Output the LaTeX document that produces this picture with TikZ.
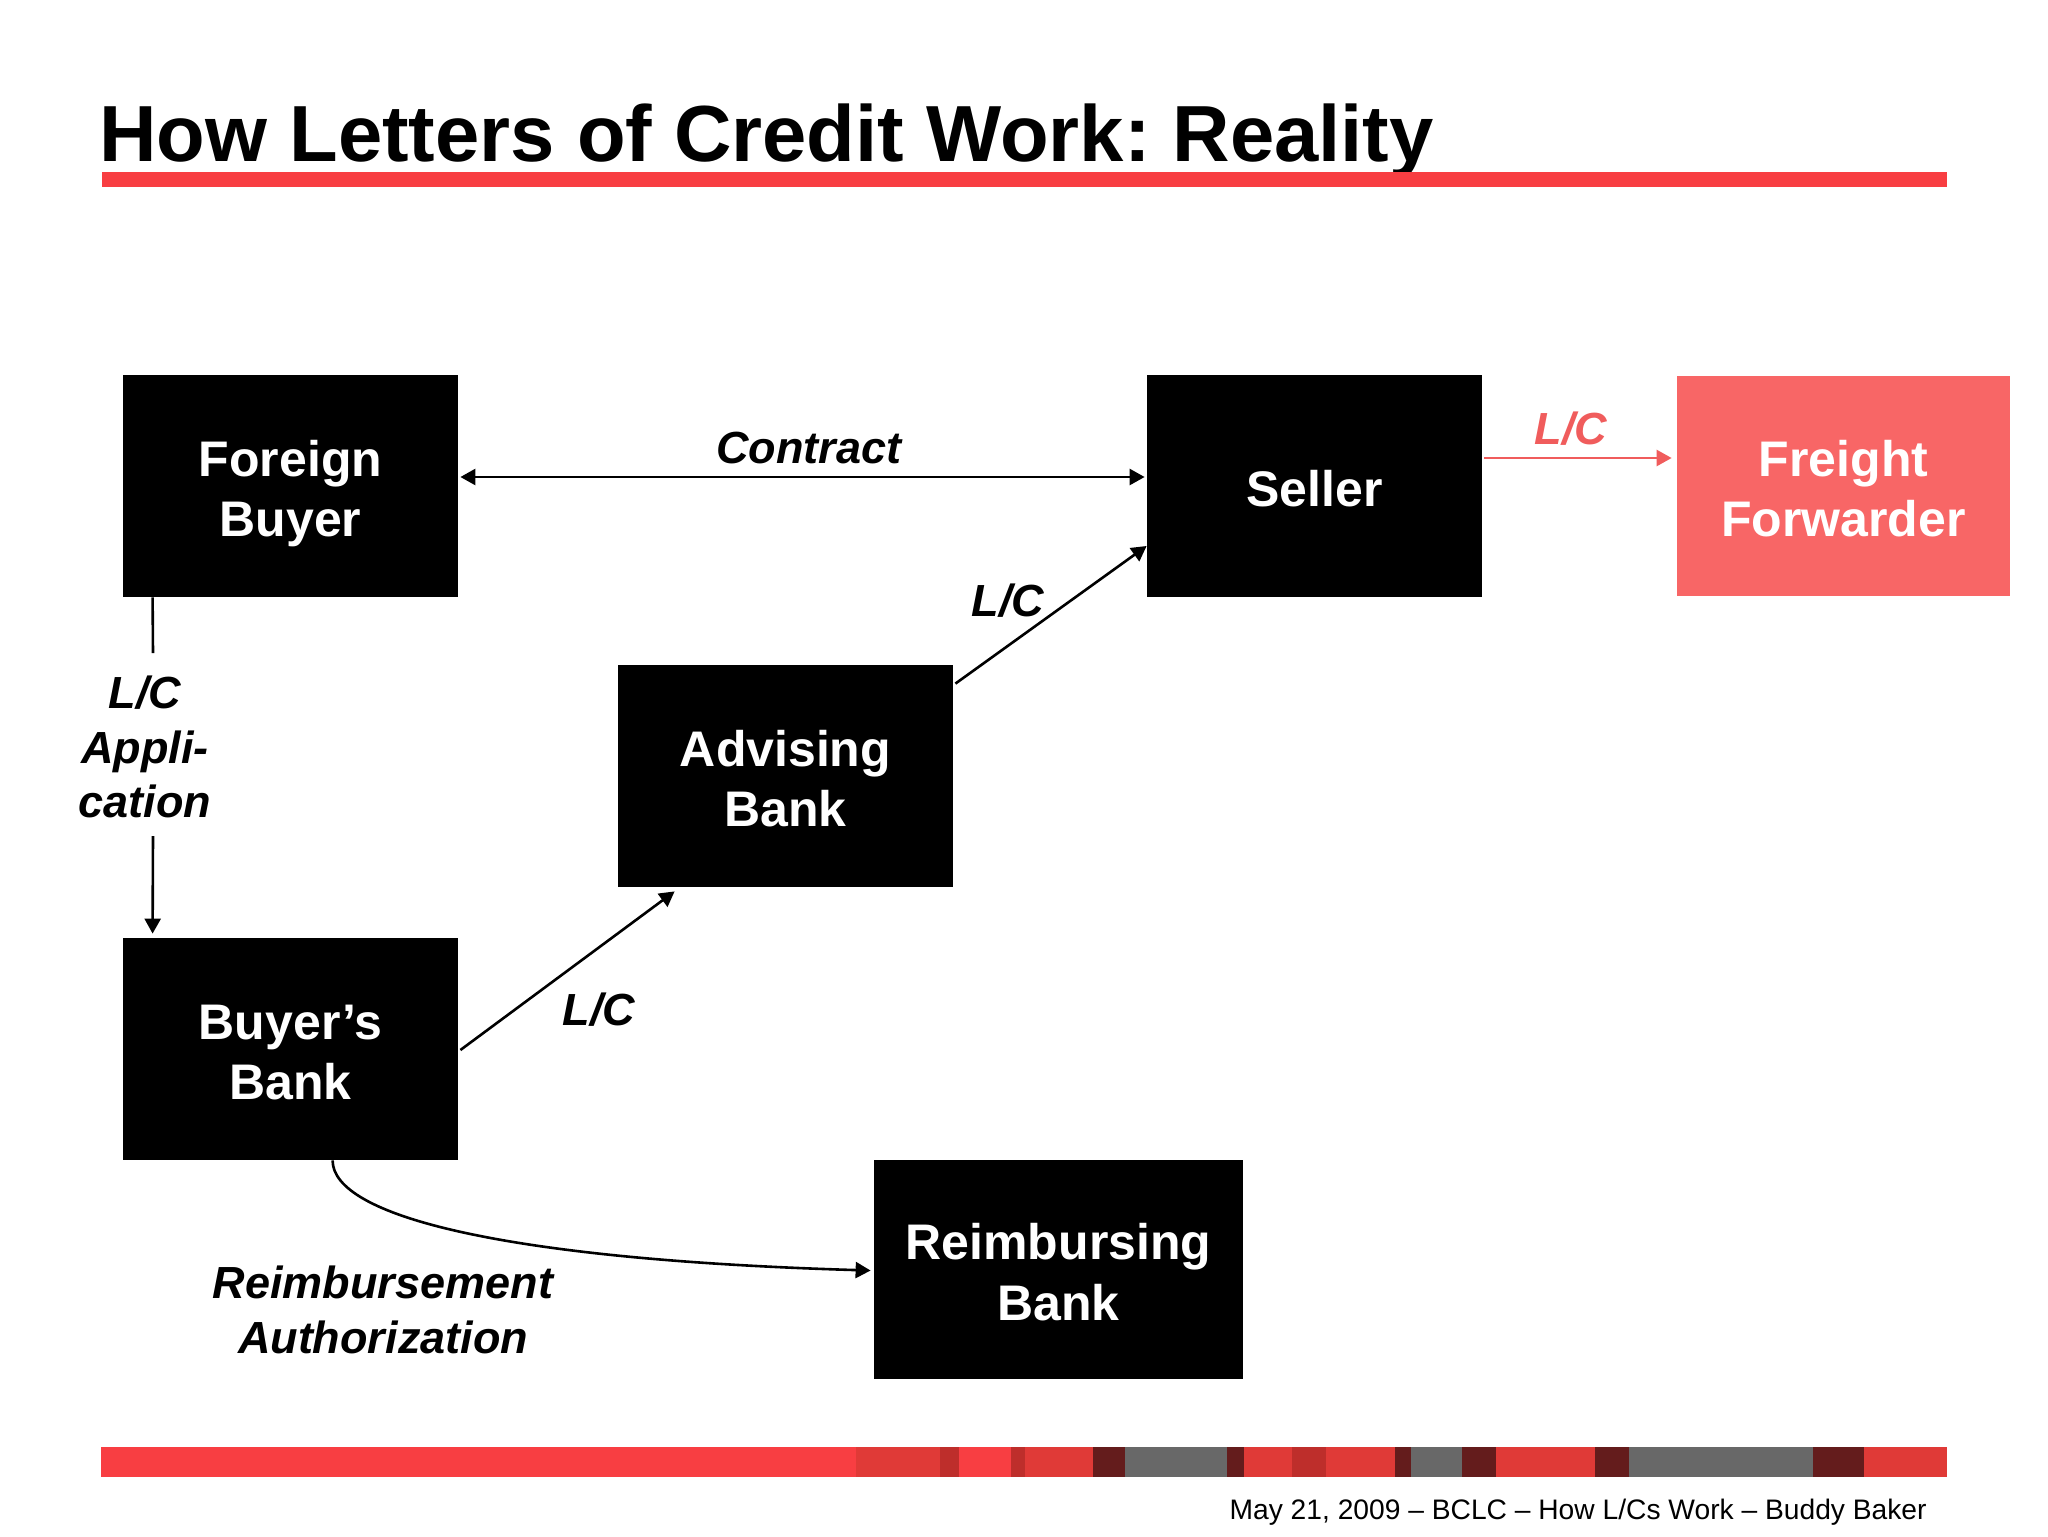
\documentclass[tikz,border=0pt]{standalone}
\usepackage{fontspec}
\setmainfont{Liberation Sans}
\usetikzlibrary{arrows.meta,calc}
\definecolor{barred}{RGB}{248,62,66}
\definecolor{midred}{RGB}{224,58,55}
\definecolor{brickred}{RGB}{190,46,43}
\definecolor{darkred}{RGB}{100,28,28}
\definecolor{bargray}{RGB}{104,104,104}
\definecolor{ffred}{RGB}{248,102,102}
\definecolor{lcred}{RGB}{240,92,92}
\newcommand{\myTopStrut}{\rule{0pt}{26.4pt}}
\newcommand{\myBotStrut}{\rule[-6pt]{0pt}{6pt}}
\frenchspacing
\begin{document}
\begin{tikzpicture}[x=0.5pt,y=-0.5pt,
  box/.style={fill=black,text=white,align=center,inner sep=0pt,
    minimum width=167.5pt,minimum height=111pt,
    font=\fontsize{25}{30.3}\selectfont\bfseries},
  lbl/.style={font=\fontsize{22.5}{27.25}\selectfont\bfseries\itshape,inner sep=0pt,align=center},
  tip/.style={-{Triangle[length=7.5pt,width=8pt]}},
  conn/.style={line width=1.3pt,tip},
]
\path[use as bounding box,fill=white] (0,0) rectangle (2048,1536);

% title and rule
\node[anchor=base west,inner sep=0pt,font=\fontsize{39.8}{48}\selectfont\bfseries] (title) at (99,161) {How Letters of Credit Work: Reality};
\fill[barred] (102,172) rectangle (1947,187);

% bottom bar
\foreach \a/\b/\c in {101/856/barred,856/940/midred,940/959/brickred,959/1011/barred,
  1011/1025/brickred,1025/1093/midred,1093/1125/darkred,1125/1227/bargray,
  1227/1244/darkred,1244/1292/midred,1292/1326/brickred,1326/1395/midred,
  1395/1411/darkred,1411/1462/bargray,1462/1496/darkred,1496/1595/midred,
  1595/1629/darkred,1629/1813/bargray,1813/1864/darkred,1864/1947/midred}
  {\fill[\c] (\a,1447) rectangle (\b,1477);}

\node[anchor=base east,inner sep=0pt,font=\fontsize{14.1}{17}\selectfont] (footer) at (1927,1519) {May 21, 2009 – BCLC – How L/Cs Work – Buddy Baker};

% boxes
\node[box] (FB) at (290.5,486) {\myTopStrut Foreign\\Buyer\myBotStrut};
\node[box] (S) at (1314.5,486) {\myTopStrut Seller\myBotStrut};
\node[box,fill=ffred,minimum width=166.5pt,minimum height=110pt] (FF) at (1843.5,486) {\myTopStrut Freight\\Forwarder\myBotStrut};
\node[box] (AB) at (785.5,776) {\myTopStrut Advising\\Bank\myBotStrut};
\node[box] (BB) at (290.5,1049) {\myTopStrut Buyer’s\\Bank\myBotStrut};
\node[box,minimum width=184.5pt,minimum height=109.5pt] (RB) at (1058.5,1269.5) {\myTopStrut Reimbursing\\Bank\myBotStrut};

% contract
\draw[line width=1.3pt,{Triangle[length=7.5pt,width=8pt]}-{Triangle[length=7.5pt,width=8pt]}]
  ($(FB.east)+(2,-9)$) -- ($(S.west)+(-2,-9)$);
\node[lbl,anchor=base] (lcontract) at (809,463) {Contract};

% seller -> freight forwarder
\draw[conn,lcred] ($(S.east)+(2,-28)$) -- ($(FF.west)+(-5,-28)$);
\node[lbl,anchor=base,text=lcred] (lff) at (1571,444) {L/C};

% foreign buyer -> buyer's bank
\node[lbl] (lapp) at (145,747) {L/C\\Appli-\\cation};
\coordinate (a1) at (153,653);
\coordinate (a2) at (153,836);
\draw[line width=1.3pt] ($(FB.south west)+(30,0)$) -- (a1);
\draw[conn] (a2) -- ($(BB.north west)+(30,-4)$);

% buyer's bank -> advising bank
\draw[conn] ($(BB.east)+(2,1)$) -- ($(AB.south west)+(57,4)$);
\node[lbl,anchor=base] (lbb) at (599,1025) {L/C};

% advising bank -> seller
\draw[conn] ($(AB.north east)+(2,19)$) -- ($(S.west)+(0,60)$);
\node[lbl,anchor=base] (lab) at (1008,616) {L/C};

% buyer's bank -> reimbursing bank
\draw[conn] ($(BB.south west)+(210,0)$) .. controls +(0,55) and +(-371,-11) .. ($(RB.west)+(-3,1)$);
\node[lbl] (lra) at (383,1310) {Reimbursement\\Authorization};
\end{tikzpicture}
\end{document}
